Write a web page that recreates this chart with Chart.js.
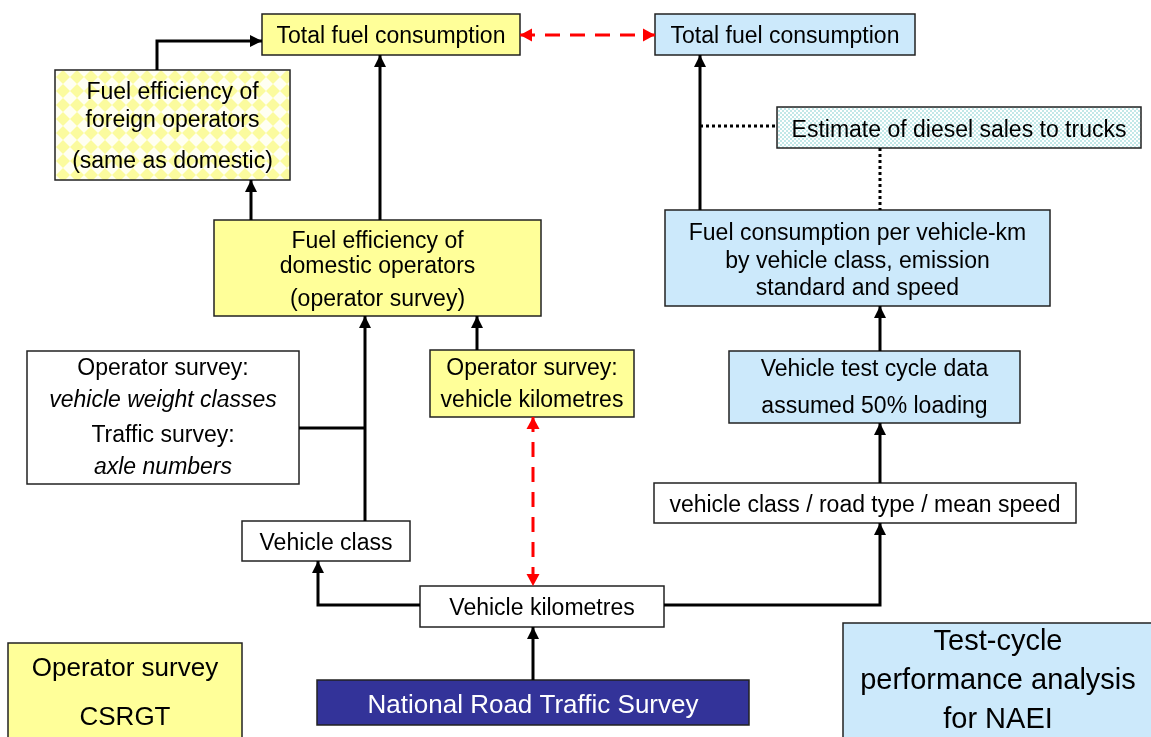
<html lang="en">
  <head>
    <meta charset="utf-8">
    <title>Truck fuel consumption – data flow</title>
    <style>
      body { margin: 0; background: white; }
      .chartBox { width: 1151px; height: 737px; }
    </style>
  </head>
  <body>
    <div class="chartBox">
      <canvas id="myChart"></canvas>
    </div>

    <script src="https://cdn.jsdelivr.net/npm/chart.js/dist/chart.umd.min.js"></script>
    <script>
    // box texts
    const nodeText = [
      ['Total fuel consumption'],
      ['Total fuel consumption'],
      ['Fuel efficiency of', 'foreign operators', '(same as domestic)'],
      ['Fuel efficiency of', 'domestic operators', '(operator survey)'],
      ['Estimate of diesel sales to trucks'],
      ['Fuel consumption per vehicle-km', 'by vehicle class, emission', 'standard and speed'],
      ['Operator survey:', 'vehicle kilometres'],
      ['Vehicle test cycle data', 'assumed 50% loading'],
      ['Operator survey:', 'vehicle weight classes', 'Traffic survey:', 'axle numbers'],
      ['vehicle class / road type / mean speed'],
      ['Vehicle class'],
      ['Vehicle kilometres'],
      ['National Road Traffic Survey'],
      ['Operator survey', 'CSRGT'],
      ['Test-cycle', 'performance analysis', 'for NAEI']
    ];
    const italicLines = { 8: [1, 3] };

    // kind of each connector
    const linkKind = ['arrow','arrow','arrow','both','arrow','dotted','dotted','arrow','arrow','arrow','arrow','arrow','both','arrow','plain','arrow'];

    // layout in diagram units (x, y, w, h) and text row centres
    const boxes = [
      [262, 14, 258, 41], [655, 14, 260, 41], [55, 70, 235, 110], [214, 220, 327, 96],
      [777, 107, 364, 41], [665, 210, 385, 96], [430, 350, 204, 67], [729, 351, 291, 72],
      [27, 351, 272, 133], [654, 483, 422, 40], [242, 521, 168, 40], [420, 586, 244, 41],
      [317, 680, 432, 45], [8, 643, 234, 100], [843, 623, 320, 120]
    ];
    const rows = [
      [35], [35], [91, 119, 160], [240, 265, 298], [129], [232, 260, 287], [367, 399],
      [368, 405], [367, 399, 434, 466], [504], [542], [607], [704], [667, 716], [640, 679, 718]
    ];
    const paths = [
      [[157,70],[157,41],[262,41]],
      [[380,220],[380,55]],
      [[251,220],[251,180]],
      [[520,35],[655,35]],
      [[700,210],[700,55]],
      [[700,126],[777,126]],
      [[880,148],[880,210]],
      [[880,351],[880,306]],
      [[880,483],[880,423]],
      [[664,605],[880,605],[880,523]],
      [[420,605],[318,605],[318,561]],
      [[533,680],[533,627]],
      [[533,417],[533,586]],
      [[365,521],[365,316]],
      [[299,428],[365,428]],
      [[477,350],[477,316]]
    ];

    const YELLOW = '#ffff99', BLUE = '#cce9fb', NAVY = '#333399';

    function makePattern(kind) {
      const c = document.createElement('canvas');
      const g = c.getContext('2d');
      if (kind === 'diamond') {
        c.width = 14; c.height = 14;
        g.fillStyle = '#fffff2'; g.fillRect(0, 0, 14, 14);
        g.fillStyle = '#fbfb9e';
        g.beginPath(); g.moveTo(7, 0); g.lineTo(14, 7); g.lineTo(7, 14); g.lineTo(0, 7); g.closePath(); g.fill();
      } else {
        c.width = 4; c.height = 4;
        g.fillStyle = '#ffffff'; g.fillRect(0, 0, 4, 4);
        g.fillStyle = '#c2e8e8';
        g.fillRect(0, 0, 2, 2); g.fillRect(2, 2, 2, 2);
      }
      return g.createPattern(c, 'repeat');
    }

    const fills = [YELLOW, BLUE, 'diamond', YELLOW, 'check', BLUE, YELLOW, BLUE,
                   'white', 'white', 'white', 'white', NAVY, YELLOW, BLUE];
    const fontSizes = [23,23,23,23,23,23,23,23,23,23,23,23,26,26,29];

    // connector datasets
    const datasets = paths.map((p, i) => {
      const k = linkKind[i];
      return {
        data: p.map(pt => ({ x: pt[0], y: pt[1] })),
        showLine: true,
        pointRadius: 0,
        borderWidth: 3,
        borderColor: k === 'both' ? '#ff0000' : '#000000',
        borderDash: k === 'both' ? [15, 10] : (k === 'dotted' ? [3, 3] : []),
        borderCapStyle: 'butt',
        borderJoinStyle: 'miter',
        tension: 0
      };
    });

    function head(ctx, x1, y1, x2, y2, color, len, half) {
      const a = Math.atan2(y2 - y1, x2 - x1);
      ctx.fillStyle = color;
      ctx.beginPath();
      ctx.moveTo(x2, y2);
      ctx.lineTo(x2 - len * Math.cos(a) + half * Math.sin(a), y2 - len * Math.sin(a) - half * Math.cos(a));
      ctx.lineTo(x2 - len * Math.cos(a) - half * Math.sin(a), y2 - len * Math.sin(a) + half * Math.cos(a));
      ctx.closePath();
      ctx.fill();
    }

    const diagramPlugin = {
      id: 'diagram',
      beforeDatasetsDraw(chart) {
        const { ctx, scales: { x, y } } = chart;
        ctx.save();
        boxes.forEach((b, i) => {
          const x0 = x.getPixelForValue(b[0]), y0 = y.getPixelForValue(b[1]);
          const x1 = x.getPixelForValue(b[0] + b[2]), y1 = y.getPixelForValue(b[1] + b[3]);
          const f = fills[i];
          ctx.fillStyle = f === 'diamond' || f === 'check' ? makePattern(f) : f;
          ctx.fillRect(x0, y0, x1 - x0, y1 - y0);
          ctx.strokeStyle = '#222';
          ctx.lineWidth = 1.5;
          ctx.strokeRect(x0, y0, x1 - x0, y1 - y0);
        });
        ctx.restore();
      },
      afterDatasetsDraw(chart) {
        const { ctx, scales: { x, y } } = chart;
        ctx.save();
        // arrowheads
        paths.forEach((p, i) => {
          const k = linkKind[i];
          const px = p.map(pt => [x.getPixelForValue(pt[0]), y.getPixelForValue(pt[1])]);
          const n = px.length;
          if (k === 'arrow') {
            head(ctx, px[n-2][0], px[n-2][1], px[n-1][0], px[n-1][1], '#000', 12, 6);
          } else if (k === 'both') {
            head(ctx, px[n-2][0], px[n-2][1], px[n-1][0], px[n-1][1], '#ff0000', 12, 6.5);
            head(ctx, px[1][0], px[1][1], px[0][0], px[0][1], '#ff0000', 12, 6.5);
          }
        });
        // text
        ctx.textAlign = 'center';
        ctx.textBaseline = 'middle';
        nodeText.forEach((lines, i) => {
          const b = boxes[i];
          const cx = i === 14 ? x.getPixelForValue(998) : x.getPixelForValue(b[0] + b[2] / 2);
          const it = italicLines[i] || [];
          lines.forEach((t, j) => {
            ctx.font = (it.includes(j) ? 'italic ' : '') + fontSizes[i] + 'px "Liberation Sans", Arial, sans-serif';
            ctx.fillStyle = fills[i] === NAVY ? '#ffffff' : '#000000';
            ctx.fillText(t, cx, y.getPixelForValue(rows[i][j]) + 2);
          });
        });
        ctx.restore();
      }
    };

    const config = {
      type: 'scatter',
      data: { datasets },
      options: {
        animation: false,
        responsive: true,
        maintainAspectRatio: false,
        layout: { padding: 0 },
        plugins: { legend: { display: false }, tooltip: { enabled: false } },
        scales: {
          x: { type: 'linear', min: 0, max: 1151, display: false },
          y: { type: 'linear', min: 0, max: 737, reverse: true, display: false }
        }
      },
      plugins: [diagramPlugin]
    };

    const myChart = new Chart(document.getElementById('myChart'), config);
    </script>
  </body>
</html>
